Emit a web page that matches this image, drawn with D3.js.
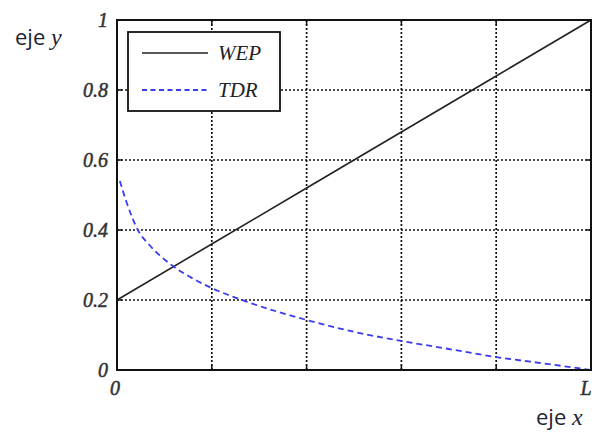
<!DOCTYPE html>
<html>
<head>
<meta charset="utf-8">
<script src="https://cdn.jsdelivr.net/npm/d3@7"></script>
<style>
  body { margin: 0; background: #fff; }
  svg { display: block; }
</style>
</head>
<body>
<svg id="chart" width="596" height="435"></svg>
<script>
// data (x as fraction of L)
var wepX = [0, 0.2, 0.4, 0.6, 0.8, 1];
var wepY = [0.2, 0.36, 0.52, 0.68, 0.84, 1];
var tdrX = [0.006, 0.02, 0.044, 0.07, 0.118, 0.154, 0.2, 0.27, 0.4, 0.5, 0.6, 0.7, 0.8, 0.91, 1];
var tdrY = [0.54, 0.48, 0.40, 0.355, 0.297, 0.266, 0.234, 0.197, 0.143, 0.109, 0.083, 0.06, 0.037, 0.017, 0];
var yTicks = [0, 0.2, 0.4, 0.6, 0.8, 1];
var yTickLabels = ["0", "0.2", "0.4", "0.6", "0.8", "1"];
var xGrid = [0, 0.2, 0.4, 0.6, 0.8, 1];
var xTickLabels = {0: "0", 1: "L"};
var seriesNames = ["WEP", "TDR"];

var svg = d3.select("#chart");
// plot box (note: "top" is taken by window.top)
var pL = 117, pR = 591, pT = 20, pB = 370;

var x = d3.scaleLinear().domain([0, 1]).range([pL, pR]);
var y = d3.scaleLinear().domain([0, 1]).range([pB, pT]);

var serif = "'Liberation Serif', 'Times New Roman', serif";
var sans = "'Open Sans', 'Noto Sans', sans-serif";

// grid
svg.append("g").selectAll("line")
  .data(xGrid.slice(1, -1))
  .enter().append("line")
  .attr("x1", d => x(d)).attr("x2", d => x(d))
  .attr("y1", pT).attr("y2", pB)
  .attr("stroke", "#111").attr("stroke-width", 1.7)
  .attr("stroke-dasharray", "2,2");

svg.append("g").selectAll("line")
  .data(yTicks.slice(1, -1))
  .enter().append("line")
  .attr("x1", pL).attr("x2", pR)
  .attr("y1", d => y(d)).attr("y2", d => y(d))
  .attr("stroke", "#111").attr("stroke-width", 1.7)
  .attr("stroke-dasharray", "2,2");

// inner ticks
var tk = 5;
svg.append("g").selectAll("line")
  .data(xGrid.slice(1, -1))
  .enter().append("line")
  .attr("x1", d => x(d)).attr("x2", d => x(d))
  .attr("y1", pT).attr("y2", pT + tk)
  .attr("stroke", "#111").attr("stroke-width", 1.5);
svg.append("g").selectAll("line")
  .data(xGrid.slice(1, -1))
  .enter().append("line")
  .attr("x1", d => x(d)).attr("x2", d => x(d))
  .attr("y1", pB).attr("y2", pB - tk)
  .attr("stroke", "#111").attr("stroke-width", 1.5);
svg.append("g").selectAll("line")
  .data(yTicks.slice(1, -1))
  .enter().append("line")
  .attr("x1", pL).attr("x2", pL + tk)
  .attr("y1", d => y(d)).attr("y2", d => y(d))
  .attr("stroke", "#111").attr("stroke-width", 1.5);
svg.append("g").selectAll("line")
  .data(yTicks.slice(1, -1))
  .enter().append("line")
  .attr("x1", pR).attr("x2", pR - tk)
  .attr("y1", d => y(d)).attr("y2", d => y(d))
  .attr("stroke", "#111").attr("stroke-width", 1.5);

// curves
var line = d3.line().x(d => x(d[0])).y(d => y(d[1]));

svg.append("path")
  .datum(wepX.map((v, i) => [v, wepY[i]]))
  .attr("d", line)
  .attr("fill", "none").attr("stroke", "#222").attr("stroke-width", 1.6);

svg.append("path")
  .datum(tdrX.map((v, i) => [v, tdrY[i]]))
  .attr("d", line.curve(d3.curveMonotoneX))
  .attr("fill", "none").attr("stroke", "#3a3cf0").attr("stroke-width", 1.8)
  .attr("stroke-dasharray", "6,4");

// frame
svg.append("rect")
  .attr("x", pL).attr("y", pT)
  .attr("width", pR - pL).attr("height", pB - pT)
  .attr("fill", "none").attr("stroke", "#111").attr("stroke-width", 2);

// y tick labels
svg.append("g").selectAll("text")
  .data(yTicks)
  .enter().append("text")
  .attr("x", 108)
  .attr("y", d => y(d) + 7)
  .attr("text-anchor", "end")
  .attr("font-family", serif).attr("font-style", "italic")
  .attr("font-size", 20).attr("fill", "#333")
  .attr("stroke", "#333").attr("stroke-width", 0.5)
  .text((d, i) => yTickLabels[i]);

// x tick labels
svg.append("g").selectAll("text")
  .data(Object.keys(xTickLabels))
  .enter().append("text")
  .attr("x", d => x(+d) + (+d === 0 ? -2 : -5))
  .attr("y", 395)
  .attr("text-anchor", "middle")
  .attr("font-family", serif).attr("font-style", "italic")
  .attr("font-size", 20).attr("fill", "#333")
  .attr("stroke", "#333").attr("stroke-width", 0.5)
  .text(d => xTickLabels[d]);

// axis names
var ty = svg.append("text").attr("x", 15).attr("y", 45)
  .attr("font-size", 22).attr("fill", "#1c2333");
ty.append("tspan").attr("font-family", sans).text("eje ");
ty.append("tspan").attr("font-family", serif).attr("font-style", "italic").attr("font-size", 24).text("y");

var tx = svg.append("text").attr("x", 536).attr("y", 425)
  .attr("font-size", 22).attr("fill", "#1c2333");
tx.append("tspan").attr("font-family", sans).text("eje ");
tx.append("tspan").attr("font-family", serif).attr("font-style", "italic").attr("font-size", 24).text("x");

// legend
var lg = svg.append("g");
lg.append("rect")
  .attr("x", 128).attr("y", 32).attr("width", 152).attr("height", 79)
  .attr("fill", "#fff").attr("stroke", "#111").attr("stroke-width", 1.8);

var legendStyles = [
  {stroke: "#222", dash: null, w: 1.5},
  {stroke: "#3a3cf0", dash: "5,3.5", w: 1.8}
];
seriesNames.forEach(function (name, i) {
  var ly = 53 + i * 37;
  lg.append("line")
    .attr("x1", 142).attr("x2", 208)
    .attr("y1", ly).attr("y2", ly)
    .attr("stroke", legendStyles[i].stroke)
    .attr("stroke-width", legendStyles[i].w)
    .attr("stroke-dasharray", legendStyles[i].dash);
  lg.append("text")
    .attr("x", 218).attr("y", ly + 7)
    .attr("font-family", serif).attr("font-style", "italic")
    .attr("font-size", 21).attr("fill", "#222")
    .text(name);
});
</script>
</body>
</html>
